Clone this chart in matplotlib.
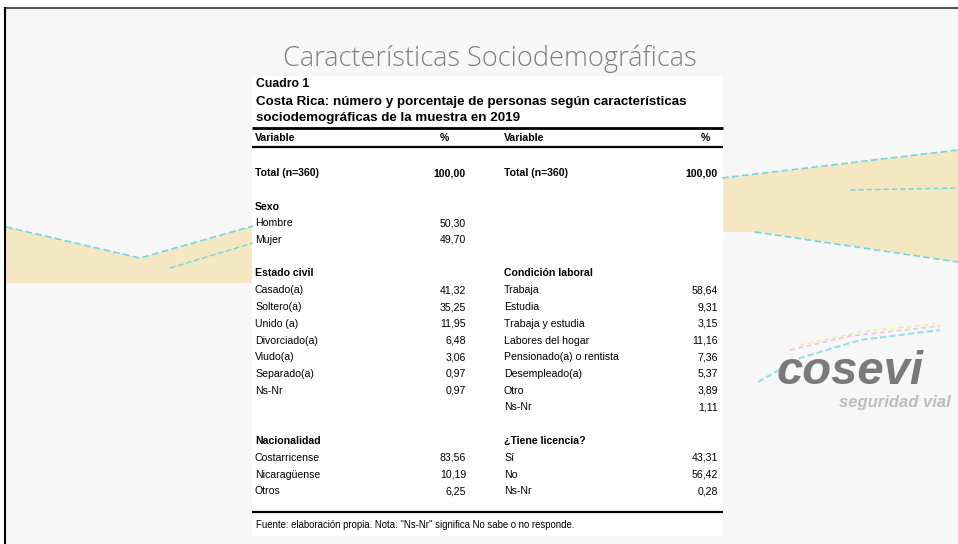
import matplotlib.pyplot as plt
from matplotlib.patches import Rectangle, Polygon

# datos del cuadro
total_label = "Total (n=360)"
total_pct = 100.00

sexo_labels = ["Hombre", "Mujer"]
sexo_pct = [50.30, 49.70]

civil_labels = ["Casado(a)", "Soltero(a)", "Unido (a)", "Divorciado(a)", "Viudo(a)", "Separado(a)", "Ns-Nr"]
civil_pct = [41.32, 35.25, 11.95, 6.48, 3.06, 0.97, 0.97]

nac_labels = ["Costarricense", "Nicaragüense", "Otros"]
nac_pct = [83.56, 10.19, 6.25]

laboral_labels = ["Trabaja", "Estudia", "Trabaja y estudia", "Labores del hogar",
                  "Pensionado(a) o rentista", "Desempleado(a)", "Otro", "Ns-Nr"]
laboral_pct = [58.64, 9.31, 3.15, 11.16, 7.36, 5.37, 3.89, 1.11]

licencia_labels = ["Sí", "No", "Ns-Nr"]
licencia_pct = [43.31, 56.42, 0.28]

W, H = 958, 544
fig = plt.figure(figsize=(W / 100, H / 100), dpi=100)
fig.patch.set_facecolor("white")
ax = fig.add_axes([0, 0, 1, 1])
ax.set_xlim(0, W)
ax.set_ylim(H, 0)
ax.axis("off")

# fondo de la diapositiva
ax.add_patch(Rectangle((5, 8), W - 5, H - 8, facecolor="#f7f7f7", edgecolor="none"))
ax.plot([5, W], [7.5, 7.5], color="#555555", lw=1.5, solid_capstyle="butt")
ax.plot([5.5, 5.5], [7, H], color="black", lw=1.5, solid_capstyle="butt")

# decoracion: franjas beige
tan = "#f6e7c3"
cyan = "#6fd8e0"
ax.add_patch(Polygon([(6, 227), (140, 258), (253, 226), (253, 283), (6, 283)],
                     closed=True, facecolor=tan, edgecolor="none"))
ax.plot([6, 140, 253], [227, 258, 226], color=cyan, lw=1.2, ls=(0, (4, 2)))
ax.plot([170, 253], [268, 243], color=cyan, lw=1.0, ls=(0, (4, 2)))
ax.add_patch(Polygon([(722, 178), (958, 150), (958, 262), (760, 232), (722, 232)],
                     closed=True, facecolor=tan, edgecolor="none"))
ax.plot([722, 958], [178, 150], color=cyan, lw=1.2, ls=(0, (4, 2)))
ax.plot([755, 958], [232, 262], color=cyan, lw=1.2, ls=(0, (4, 2)))
ax.plot([850, 958], [190, 188], color=cyan, lw=1.0, ls=(0, (4, 2)))

# logo
ax.plot([758, 800, 860, 940], [382, 358, 340, 330], color=cyan, lw=1.5, alpha=0.7, ls=(0, (3, 1.5)))
ax.plot([790, 850, 940], [350, 336, 326], color="#f39cf0", lw=1.2, alpha=0.6, ls=(0, (3, 2)))
ax.plot([800, 860, 935], [345, 332, 324], color="#e8ef7a", lw=1.2, alpha=0.7, ls=(0, (3, 2)))
ax.text(850, 372, "cosevi", fontsize=34, fontweight="bold", style="italic",
        color="#7a7a7a", ha="center", va="center", family="Liberation Sans")
ax.text(895, 402, "seguridad vial", fontsize=12, style="italic", fontweight="bold",
        color="#bdbdbd", ha="center", va="center", family="Liberation Sans")

# titulo
ax.text(490, 59, "Características Sociodemográficas", fontsize=19.5, color="#7f7f7f",
        ha="center", va="center", family="Open Sans", fontweight="light")

# caja del cuadro
x0, x1 = 252, 723
ax.add_patch(Rectangle((x0, 76), x1 - x0, 460, facecolor="white", edgecolor="none"))

fs = 7.6
ax.text(256, 84, "Cuadro 1", fontsize=8.8, fontweight="bold", va="center", family="Liberation Sans")
ax.text(256, 102, "Costa Rica: número y porcentaje de personas según características",
        fontsize=9.6, fontweight="bold", va="center", family="Liberation Sans")
ax.text(256, 118, "sociodemográficas de la muestra en 2019",
        fontsize=9.6, fontweight="bold", va="center", family="Liberation Sans")

ax.plot([x0, x1], [128, 128], color="black", lw=2, solid_capstyle="butt")
ax.plot([x0, x1], [147, 147], color="black", lw=1.6, solid_capstyle="butt")
ax.plot([x0, x1], [512, 512], color="black", lw=1.6, solid_capstyle="butt")

lx, lv, rx, rv = 255, 466, 504, 718
ax.text(lx, 138, "Variable", fontsize=fs, fontweight="bold", va="center", family="Liberation Sans")
ax.text(444, 138, "%", fontsize=fs, fontweight="bold", va="center", ha="center", family="Liberation Sans")
ax.text(rx, 138, "Variable", fontsize=fs, fontweight="bold", va="center", family="Liberation Sans")
ax.text(705, 138, "%", fontsize=fs, fontweight="bold", va="center", ha="center", family="Liberation Sans")


def fmt(v):
    return f"{v:.2f}".replace(".", ",")


def row_y(i):
    return 173 + i * 16.75


def put(xl, xv, row, label, value=None, bold=False):
    w = "bold" if bold else "normal"
    ax.text(xl, row_y(row), label, fontsize=fs, fontweight=w, va="center", family="Liberation Sans")
    if value is not None:
        ax.text(xv, row_y(row), fmt(value), fontsize=fs, fontweight=w, va="center", ha="right",
                family="Liberation Sans")


def block(xl, xv, start, title, labels, values):
    put(xl, xv, start, title, bold=True)
    for k, (lab, val) in enumerate(zip(labels, values)):
        put(xl, xv, start + 1 + k, lab, val)


put(lx, lv, 0, total_label, total_pct, bold=True)
put(rx, rv, 0, total_label, total_pct, bold=True)
block(lx, lv, 2, "Sexo", sexo_labels, sexo_pct)
block(lx, lv, 6, "Estado civil", civil_labels, civil_pct)
block(lx, lv, 16, "Nacionalidad", nac_labels, nac_pct)
block(rx, rv, 6, "Condición laboral", laboral_labels, laboral_pct)
block(rx, rv, 16, "¿Tiene licencia?", licencia_labels, licencia_pct)

ax.text(256, 525, 'Fuente: elaboración propia. Nota: "Ns-Nr" significa No sabe o no responde.',
        fontsize=6.9, va="center", family="Liberation Sans")

fig.savefig("out.png", dpi=100, facecolor=fig.get_facecolor())
